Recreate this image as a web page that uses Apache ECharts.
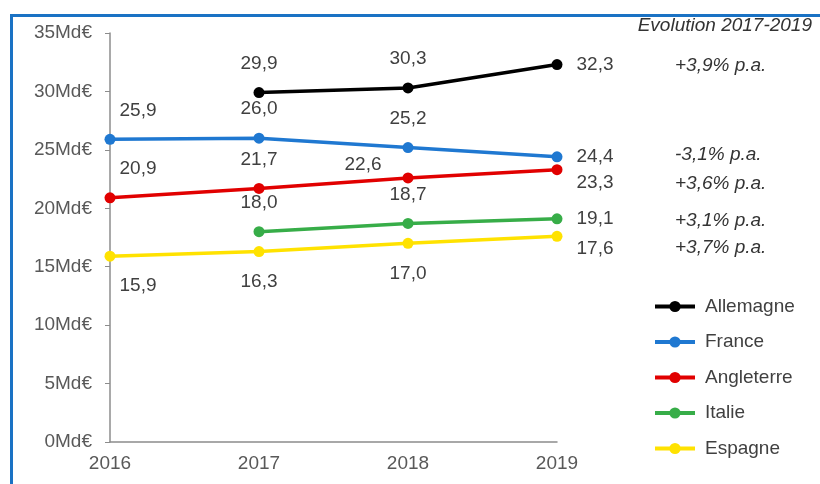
<!DOCTYPE html>
<html>
<head>
<meta charset="utf-8">
<script src="https://cdn.jsdelivr.net/npm/echarts@6/dist/echarts.min.js"></script>
<style>
  html, body { margin: 0; padding: 0; background: #fff; overflow: hidden; }
  #frame { position: absolute; left: 10px; top: 14px; width: 900px; height: 600px; border: 3px solid #1a72c4; }
  #chart { position: absolute; left: 0; top: 0; width: 820px; height: 484px; }
</style>
</head>
<body>
<div id="frame"></div>
<div id="chart"></div>
<script>
const years = ['2016', '2017', '2018', '2019']

const allemagne = [null, 29.9, 30.3, 32.3]
const france = [25.9, 26.0, 25.2, 24.4]
const angleterre = [20.9, 21.7, 22.6, 23.3]
const italie = [null, 18.0, 18.7, 19.1]
const espagne = [15.9, 16.3, 17.0, 17.6]

const evolutionTitle = 'Evolution 2017-2019'
const evolutions = ['+3,9% p.a.', '-3,1% p.a.', '+3,6% p.a.', '+3,1% p.a.', '+3,7% p.a.']

const FONT = '"Liberation Sans", Arial, sans-serif'
const fmt = v => v.toFixed(1).replace('.', ',')

// where each value label sits, per point
const TOP = { position: 'top', distance: 14 }
const TOP_FIRST = { position: 'top', distance: 14, offset: [28, 0] }
const BOTTOM = { position: 'bottom', distance: 15 }
const BOTTOM_FIRST = { position: 'bottom', distance: 15, offset: [28, 0] }
const RIGHT = { position: 'right', distance: 14 }

const placements = {
    Allemagne: [TOP, TOP, TOP, RIGHT],
    France: [TOP_FIRST, TOP, TOP, RIGHT],
    Angleterre: [TOP_FIRST, TOP, { position: 'left', distance: 21, offset: [0, -13] }, { position: 'right', distance: 14, offset: [0, 13] }],
    Italie: [TOP, TOP, TOP, RIGHT],
    Espagne: [BOTTOM_FIRST, BOTTOM, BOTTOM, { position: 'right', distance: 14, offset: [0, 12] }]
}

const makeSeries = (name, values, color) => ({
    name: name,
    type: 'line',
    symbol: 'circle',
    symbolSize: 11,
    z: 2,
    lineStyle: { color: color, width: 3.5 },
    itemStyle: { color: color },
    data: values.map((v, i) => v === null ? null : {
        value: v,
        label: placements[name][i]
    }),
    label: {
        show: true,
        color: '#404040',
        fontSize: 19,
        fontFamily: FONT,
        formatter: p => fmt(p.value)
    },
    emphasis: { disabled: true }
})

const evoY = [67, 156, 185, 222, 249]

const chart = echarts.init(document.getElementById('chart'), null, { renderer: 'canvas' })

chart.setOption({
    animation: false,
    grid: { left: 110, right: 263, top: 33, bottom: 42 },
    legend: {
        orient: 'vertical',
        left: 653,
        top: 297,
        padding: 0,
        itemWidth: 40,
        itemHeight: 14,
        itemGap: 16.5,
        lineStyle: { width: 4 },
        textStyle: { fontSize: 19, fontFamily: FONT, color: '#404040', padding: [0, 0, 0, 5] },
        data: ['Allemagne', 'France', 'Angleterre', 'Italie', 'Espagne']
    },
    xAxis: {
        type: 'category',
        boundaryGap: false,
        data: years,
        axisLine: { lineStyle: { color: '#8c8c8c', width: 1.5 } },
        axisTick: { show: false },
        axisLabel: { color: '#595959', fontSize: 19, fontFamily: FONT, margin: 12 }
    },
    yAxis: {
        type: 'value',
        min: 0,
        max: 35,
        interval: 5,
        splitLine: { show: false },
        axisLine: { show: true, lineStyle: { color: '#8c8c8c', width: 1.5 } },
        axisTick: { show: true, length: 5, lineStyle: { color: '#8c8c8c' } },
        axisLabel: { color: '#595959', fontSize: 19, fontFamily: FONT, margin: 18, formatter: '{value}Md€' }
    },
    graphic: [
        {
            type: 'text', right: 8, top: 16,
            style: { text: evolutionTitle, fill: '#333', font: 'italic 19px ' + FONT }
        }
    ].concat(evolutions.map((t, i) => ({
        type: 'text', left: 675, top: evoY[i] - 11,
        style: { text: t, fill: '#333', font: 'italic 19px ' + FONT }
    }))),
    series: [
        makeSeries('Allemagne', allemagne, '#000000'),
        makeSeries('France', france, '#1f78d1'),
        makeSeries('Angleterre', angleterre, '#e10000'),
        makeSeries('Italie', italie, '#37ad48'),
        makeSeries('Espagne', espagne, '#ffe200')
    ]
})
</script>
</body>
</html>
